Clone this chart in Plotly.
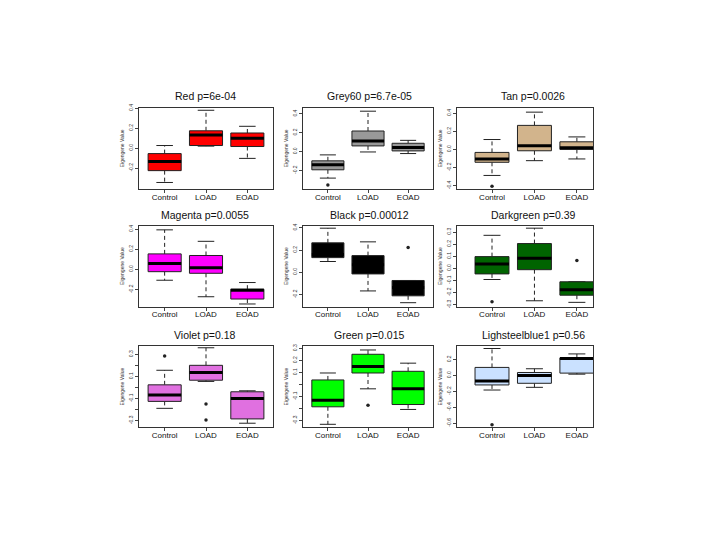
import plotly.graph_objects as go
from plotly.subplots import make_subplots

# module boxplots, eigengene value by diagnosis group
groups = ["Control", "LOAD", "EOAD"]
titles = ["Red p=6e-04", "Grey60 p=6.7e-05", "Tan p=0.0026",
          "Magenta p=0.0055", "Black p=0.00012", "Darkgreen p=0.39",
          "Violet p=0.18", "Green p=0.015", "Lighsteelblue1 p=0.56"]
colors = ["#FF0000", "#999999", "#D2B48C",
          "#FF00FF", "#000000", "#006400",
          "#E070E0", "#00FF00", "#CAE1FF"]

# box stats per panel: [Control, LOAD, EOAD]
whisker_lo = [[-0.345, 0.020, -0.103], [-0.281, -0.004, -0.021], [-0.287, -0.124, -0.105],
              [-0.108, -0.272, -0.344], [0.097, -0.168, -0.274], [-0.092, -0.268, -0.281],
              [-0.189, 0.055, -0.324], [-0.332, -0.036, -0.208], [-0.183, -0.149, 0.017]]
q1 = [[-0.226, 0.026, 0.016], [-0.193, 0.060, 0.007], [-0.142, -0.015, 0.000],
      [-0.023, -0.039, -0.295], [0.132, -0.015, -0.212], [-0.046, -0.011, -0.222],
      [-0.126, 0.066, -0.285], [-0.186, 0.096, -0.167], [-0.119, -0.098, 0.030]]
median = [[-0.135, 0.132, 0.100], [-0.140, 0.112, 0.042], [-0.105, 0.040, 0.018],
          [0.059, 0.016, -0.207], [0.160, 0.068, -0.138], [0.035, 0.084, -0.176],
          [-0.069, 0.135, -0.099], [-0.132, 0.151, -0.036], [-0.068, 0.000, 0.213]]
q3 = [[-0.055, 0.174, 0.152], [-0.098, 0.218, 0.088], [-0.033, 0.265, 0.084],
      [0.154, 0.138, -0.197], [0.265, 0.150, -0.074], [0.097, 0.205, -0.111],
      [0.024, 0.201, -0.039], [0.038, 0.252, 0.110], [0.102, 0.038, 0.221]]
whisker_hi = [[0.026, 0.380, 0.219], [-0.035, 0.428, 0.119], [0.109, 0.411, 0.138],
              [0.393, 0.279, -0.131], [0.397, 0.274, -0.074], [0.273, 0.332, -0.111],
              [0.156, 0.360, -0.030], [0.096, 0.288, 0.178], [0.340, 0.085, 0.272]]
# outliers: group index (0=Control,1=LOAD,2=EOAD) and value
outlier_group = [[], [0], [0], [], [2], [0, 2], [0, 1, 1], [1], [0]]
outlier_value = [[], [-0.354], [-0.407], [], [0.224], [-0.276, 0.065],
                 [0.285, -0.150, -0.294], [-0.173], [-0.621]]

# y ticks per panel
ytick_vals = [[-0.2, 0.0, 0.2, 0.4], [-0.2, 0.0, 0.2, 0.4], [-0.4, -0.2, 0.0, 0.2, 0.4],
              [-0.2, 0.0, 0.2, 0.4], [-0.2, 0.0, 0.2, 0.4],
              [-0.3, -0.2, -0.1, 0.0, 0.1, 0.2, 0.3],
              [-0.3, -0.2, -0.1, 0.0, 0.1, 0.2, 0.3],
              [-0.3, -0.2, -0.1, 0.0, 0.1, 0.2, 0.3],
              [-0.6, -0.4, -0.2, 0.0, 0.2]]
ytick_text = [["-0.2", "0.0", "0.2", "0.4"], ["-0.2", "0.0", "0.2", "0.4"],
              ["-0.4", "-0.2", "0.0", "0.2", "0.4"],
              ["-0.2", "0.0", "0.2", "0.4"], ["-0.2", "0.0", "0.2", "0.4"],
              ["-0.3", "-0.2", "-0.1", "0.0", "0.1", "0.2", "0.3"],
              ["-0.3", "", "-0.1", "", "0.1", "", "0.3"],
              ["-0.3", "", "-0.1", "", "0.1", "0.2", "0.3"],
              ["-0.6", "-0.4", "-0.2", "0.0", "0.2"]]

# layout in page pixels; the page body has an 8px margin
OFF = 8
W, H = 720 - 2 * OFF, 540 - 2 * OFF
col_px = [(139, 273), (303, 433), (457, 593)]
col_xrange = [(0.38, 3.62), (0.38, 3.62), (0.175, 3.38)]
row_px = [(105, 187), (224, 306), (346, 428)]
title_x = [205, 369, 533]
title_y = [93, 213, 335]
yranges = [(-0.410, 0.404), (-0.396, 0.463), (-0.436, 0.458),
           (-0.370, 0.436), (-0.309, 0.421), (-0.316, 0.354),
           (-0.360, 0.375), (-0.356, 0.320), (-0.651, 0.370)]


def px_x(x):
    return (x - OFF) / W


def px_y(y):
    return 1 - (y - OFF) / H


fig = make_subplots(rows=3, cols=3)
BW = 0.4   # half box width
SW = 0.2   # half staple width

for i in range(9):
    r, c = i // 3 + 1, i % 3 + 1
    wx, wy, sx, sy, bx, by, mx, my = [], [], [], [], [], [], [], []
    for j in range(3):
        x = j + 1
        # dashed whiskers
        wx += [x, x, None, x, x, None]
        wy += [q3[i][j], whisker_hi[i][j], None, q1[i][j], whisker_lo[i][j], None]
        # staples
        sx += [x - SW, x + SW, None, x - SW, x + SW, None]
        sy += [whisker_hi[i][j], whisker_hi[i][j], None, whisker_lo[i][j], whisker_lo[i][j], None]
        # box
        bx += [x - BW, x + BW, x + BW, x - BW, x - BW, None]
        by += [q1[i][j], q1[i][j], q3[i][j], q3[i][j], q1[i][j], None]
        # median
        mx += [x - BW, x + BW, None]
        my += [median[i][j], median[i][j], None]

    fig.add_trace(go.Scatter(x=wx, y=wy, mode="lines", hoverinfo="skip",
                             line=dict(color="#222222", width=1, dash="4px,3px")), row=r, col=c)
    fig.add_trace(go.Scatter(x=sx, y=sy, mode="lines", hoverinfo="skip",
                             line=dict(color="#222222", width=1)), row=r, col=c)
    fig.add_trace(go.Scatter(x=bx, y=by, mode="lines", fill="toself", fillcolor=colors[i],
                             hoverinfo="skip", line=dict(color="#222222", width=1)), row=r, col=c)
    fig.add_trace(go.Scatter(x=mx, y=my, mode="lines", hoverinfo="skip",
                             line=dict(color="#000000", width=3)), row=r, col=c)
    if outlier_value[i]:
        fig.add_trace(go.Scatter(x=[g + 1 for g in outlier_group[i]], y=outlier_value[i],
                                 mode="markers", hoverinfo="skip",
                                 marker=dict(color="#222222", size=3.5, symbol="circle")),
                      row=r, col=c)

    x0, x1 = col_px[c - 1]
    y0, y1 = row_px[r - 1]
    fig.update_xaxes(domain=[px_x(x0), px_x(x1)], range=list(col_xrange[c - 1]),
                     tickvals=[1, 2, 3], ticktext=groups, ticks="outside", ticklen=3,
                     ticklabelstandoff=-3,
                     tickfont=dict(size=8, color="#111111"),
                     showline=True, linecolor="#333333", linewidth=1, mirror=True,
                     showgrid=False, zeroline=False, fixedrange=True, row=r, col=c)
    fig.update_yaxes(domain=[px_y(y1), px_y(y0)], range=list(yranges[i]),
                     tickvals=ytick_vals[i], ticktext=ytick_text[i], tickangle=-90,
                     ticks="outside", ticklen=3, tickfont=dict(size=5, color="#333333"),
                     title=dict(text="Eigengene Value", font=dict(size=5, color="#333333"),
                                standoff=3),
                     showline=True, linecolor="#333333", linewidth=1, mirror=True,
                     showgrid=False, zeroline=False, fixedrange=True, row=r, col=c)

    fig.add_annotation(text=titles[i], x=px_x(title_x[c - 1]), y=px_y(title_y[r - 1]),
                       xref="paper", yref="paper", xanchor="center", yanchor="middle",
                       showarrow=False, font=dict(size=10.5, color="#111111"))

fig.update_layout(width=W, height=H, margin=dict(l=0, r=0, t=0, b=0),
                  paper_bgcolor="white", plot_bgcolor="white", showlegend=False,
                  font=dict(family="Liberation Sans, Arial, sans-serif"))

fig.write_html("out.html")
